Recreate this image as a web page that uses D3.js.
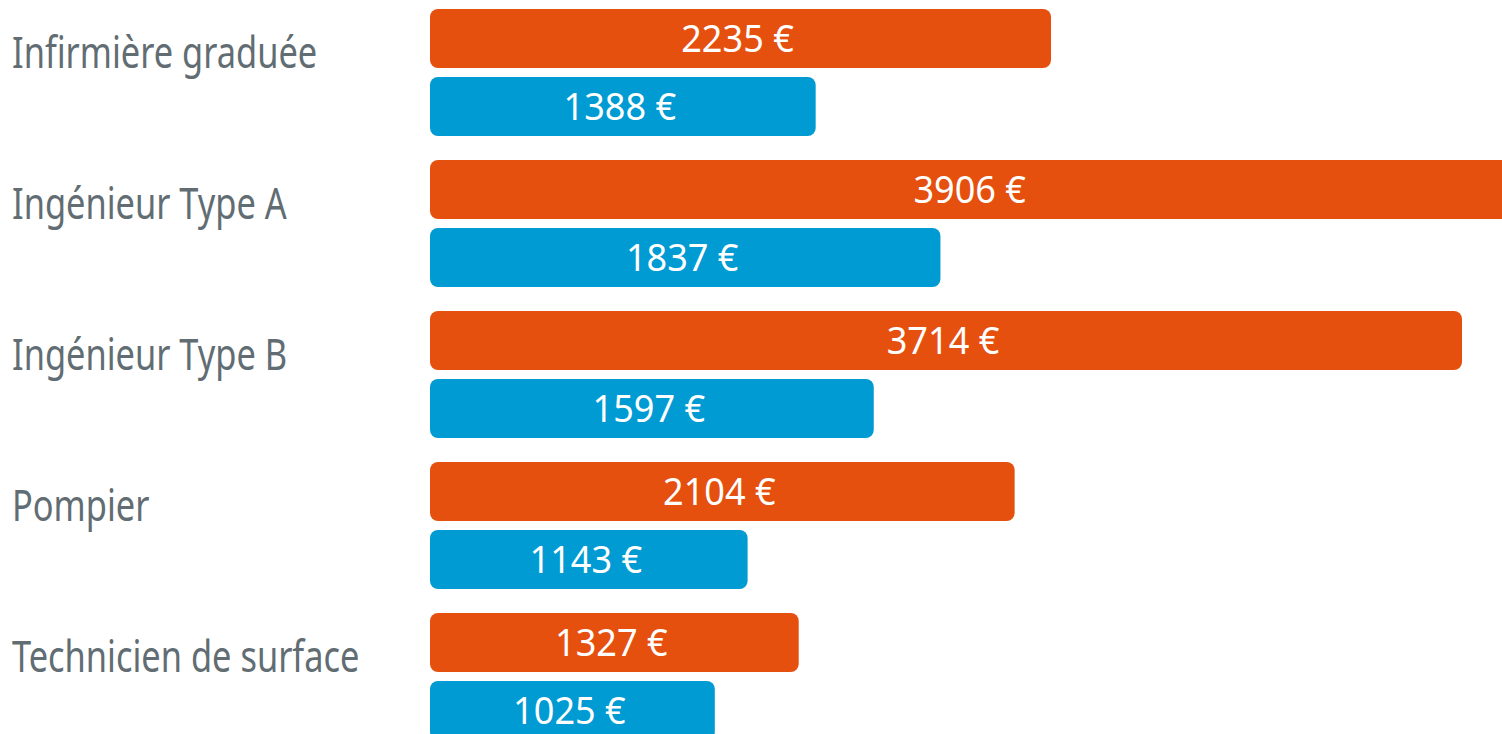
<!DOCTYPE html>
<html>
<head>
<meta charset="utf-8">
<script src="https://cdn.jsdelivr.net/npm/d3@7"></script>
<style>
    body { margin: 0; background: #fff; overflow: hidden; }
    .cat-label { fill: #616d72; font-family: "Noto Sans", sans-serif; font-size: 43px; }
    .bar-text { fill: #fff; font-family: "Noto Sans", sans-serif; font-size: 38px; }
</style>
</head>
<body>
<div id="chart"></div>
<script>
// chart data
const categories = ["Infirmière graduée", "Ingénieur Type A", "Ingénieur Type B", "Pompier", "Technicien de surface"];
const seriesNames = ["orange", "blue"];
const orangeValues = [2235, 3906, 3714, 2104, 1327];
const blueValues = [1388, 1837, 1597, 1143, 1025];
const seriesColors = ["#e6500f", "#009bd3"];

class SalaryBars {
    constructor(parentElement) {
        this.parentElement = parentElement;
        this.initVis();
    }

    initVis() {
        let vis = this;

        vis.width = 1502;
        vis.height = 734;
        vis.labelCondense = 0.8;
        vis.valueCondense = 0.95;

        vis.svg = d3.select("#" + vis.parentElement)
            .append("svg")
            .attr("width", vis.width)
            .attr("height", vis.height);

        // group rows
        vis.yScale = d3.scaleBand()
            .domain(categories)
            .range([9, 9 + 5 * 151 - 24])
            .paddingInner(24 / 151)
            .paddingOuter(0);

        // two bars inside each row
        vis.ySub = d3.scaleBand()
            .domain(seriesNames)
            .range([0, vis.yScale.bandwidth()])
            .paddingInner(9 / 68);

        vis.xScale = d3.scaleLinear()
            .domain([0, 3714])
            .range([430, 1462]);

        vis.wrangleData();
    }

    wrangleData() {
        let vis = this;
        vis.rows = categories.map((c, i) => ({
            category: c,
            bars: [
                { series: "orange", value: orangeValues[i], color: seriesColors[0] },
                { series: "blue", value: blueValues[i], color: seriesColors[1] }
            ]
        }));
        vis.updateVis();
    }

    updateVis() {
        let vis = this;

        let rows = vis.svg.selectAll(".row")
            .data(vis.rows)
            .enter()
            .append("g")
            .attr("class", "row")
            .attr("transform", d => `translate(0,${vis.yScale(d.category)})`);

        // category labels, baseline on the bottom of the first bar
        rows.append("text")
            .attr("class", "cat-label")
            .attr("transform", `translate(12,${vis.ySub("orange") + vis.ySub.bandwidth()}) scale(${vis.labelCondense},1)`)
            .text(d => d.category);

        let bars = rows.selectAll(".bar")
            .data(d => d.bars)
            .enter()
            .append("g")
            .attr("class", "bar")
            .attr("transform", d => `translate(0,${vis.ySub(d.series)})`);

        bars.append("rect")
            .attr("x", vis.xScale(0))
            .attr("y", 0)
            .attr("width", d => vis.xScale(d.value) - vis.xScale(0))
            .attr("height", vis.ySub.bandwidth())
            .attr("rx", 8)
            .attr("fill", d => d.color);

        bars.append("text")
            .attr("class", "bar-text")
            .attr("text-anchor", "middle")
            .attr("transform", d => `translate(${(vis.xScale(0) + vis.xScale(d.value)) / 2 - 3},${vis.ySub.bandwidth() / 2}) scale(${vis.valueCondense},1)`)
            .attr("dy", "0.35em")
            .text(d => d.value + " €");
    }
}

new SalaryBars("chart");
</script>
</body>
</html>
